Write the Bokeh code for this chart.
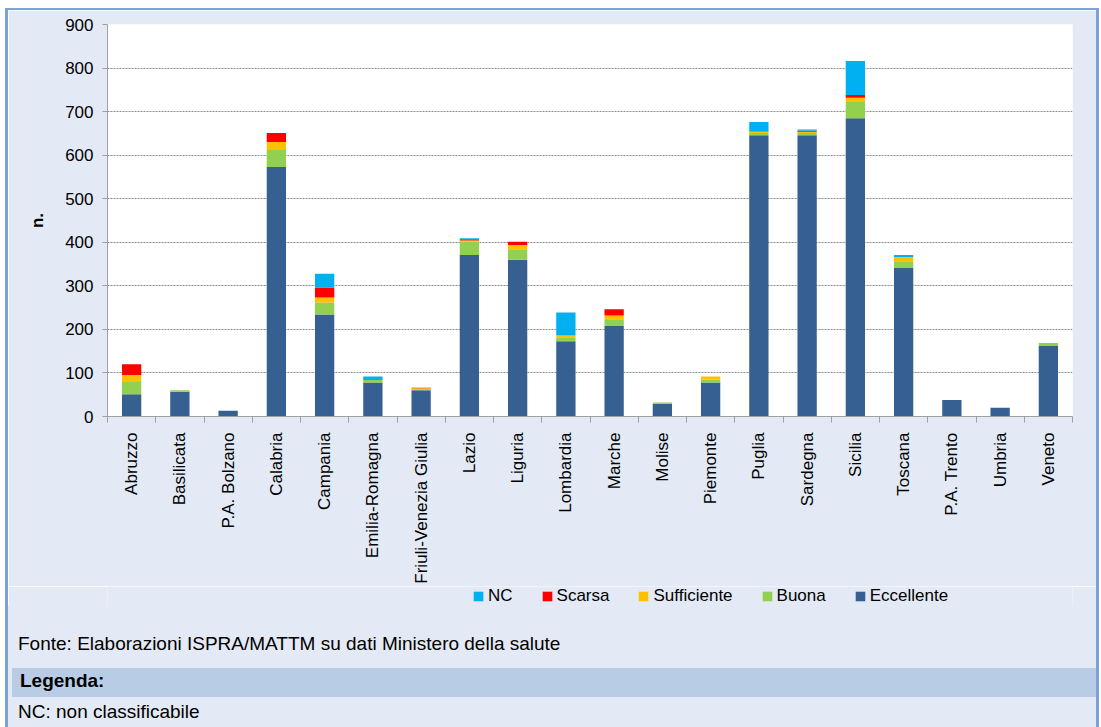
import math
from bokeh.plotting import figure
from bokeh.layouts import column, row
from bokeh.models import (ColumnDataSource, Range1d, FixedTicker, Legend, LegendItem,
                          Spacer, Div)
from bokeh.embed import file_html
from bokeh.resources import INLINE

# ---------------- data ----------------
regions = ["Abruzzo", "Basilicata", "P.A. Bolzano", "Calabria", "Campania",
           "Emilia-Romagna", "Friuli-Venezia Giulia", "Lazio", "Liguria", "Lombardia",
           "Marche", "Molise", "Piemonte", "Puglia", "Sardegna", "Sicilia",
           "Toscana", "P.A. Trento", "Umbria", "Veneto"]
eccellente = [51, 57, 13, 573, 234, 78, 60, 371, 360, 173, 208, 29, 78, 646, 646, 685, 341, 38, 20, 163]
buona = [28, 3, 0, 39, 28, 6, 1, 31, 24, 9, 15, 3, 7, 5, 5, 37, 14, 0, 0, 6]
sufficiente = [16, 0, 0, 18, 11, 0, 4, 2, 10, 4, 9, 0, 7, 3, 3, 10, 11, 0, 0, 0]
scarsa = [25, 0, 0, 21, 23, 0, 1, 3, 7, 0, 14, 0, 0, 0, 2, 6, 0, 0, 0, 0]
nc = [0, 0, 0, 0, 32, 8, 0, 2, 0, 53, 0, 0, 0, 22, 3, 78, 5, 0, 0, 0]
y_ticks = [0, 100, 200, 300, 400, 500, 600, 700, 800, 900]

series = ["Eccellente", "Buona", "Sufficiente", "Scarsa", "NC"]
colors = ["#376092", "#92D050", "#FFC000", "#FF0000", "#00B0F0"]
legend_order = ["NC", "Scarsa", "Sufficiente", "Buona", "Eccellente"]

fonte_text = "Fonte: Elaborazioni ISPRA/MATTM su dati Ministero della salute"
legenda_title = "Legenda:"
legenda_text = "NC: non classificabile"

# ---------------- style ----------------
FONT = "Liberation Sans"
BG = "#E3EAF5"
BAND = "#B8CCE6"
BORDER = "#7DA2D6"

# ---------------- chart ----------------
x_pos = [i + 0.5 for i in range(len(regions))]
source = ColumnDataSource(dict(x=x_pos, Eccellente=eccellente, Buona=buona,
                               Sufficiente=sufficiente, Scarsa=scarsa, NC=nc))

p = figure(width=1088, height=576, output_backend="svg", toolbar_location=None,
           x_range=Range1d(0, len(regions)), y_range=Range1d(0, 900),
           min_border_left=99, min_border_right=24, min_border_top=14,
           min_border_bottom=170)
p.background_fill_color = "white"
p.border_fill_color = BG
p.outline_line_color = None

rs = p.vbar_stack(series, x="x", width=0.4, color=colors, source=source, line_color=None)

overrides = {}
for xv, r in zip(x_pos, regions):
    overrides[xv] = r
    overrides[str(xv)] = r
p.xaxis.ticker = FixedTicker(ticks=x_pos, minor_ticks=list(range(len(regions) + 1)))
p.xaxis.major_label_overrides = overrides
p.xaxis.major_label_orientation = math.pi / 2
p.xaxis.major_tick_out = 0
p.xaxis.major_tick_in = 0
p.xaxis.minor_tick_out = 6
p.xaxis.minor_tick_in = 0
p.xaxis.minor_tick_line_color = "#A0A0A0"
p.xaxis.axis_line_color = "#A0A0A0"
p.xaxis.major_label_standoff = 10
p.xaxis.major_label_text_font = FONT
p.xaxis.major_label_text_font_size = "17px"
p.xaxis.major_label_text_color = "black"

p.yaxis.ticker = FixedTicker(ticks=y_ticks)
p.yaxis.major_tick_out = 5
p.yaxis.major_tick_in = 0
p.yaxis.major_tick_line_color = "#A0A0A0"
p.yaxis.axis_line_color = "#A0A0A0"
p.yaxis.major_label_standoff = 9
p.yaxis.major_label_text_font = FONT
p.yaxis.major_label_text_font_size = "17px"
p.yaxis.major_label_text_color = "black"
p.yaxis.axis_label = "n."
p.yaxis.axis_label_text_font = FONT
p.yaxis.axis_label_text_font_size = "17px"
p.yaxis.axis_label_text_font_style = "bold"
p.yaxis.axis_label_text_color = "black"
p.yaxis.axis_label_standoff = 15

p.xgrid.visible = False
p.ygrid.ticker = FixedTicker(ticks=y_ticks)
p.ygrid.grid_line_color = "#8C8C8C"
p.ygrid.grid_line_dash = "2 1"

# ---------------- legend strip ----------------
lg = figure(width=1088, height=20, output_backend="svg", toolbar_location=None,
            x_range=Range1d(0, 1), y_range=Range1d(0, 1),
            x_axis_type=None, y_axis_type=None,
            min_border_left=99, min_border_right=24, min_border_top=0, min_border_bottom=0)
lg.background_fill_color = BG
lg.border_fill_color = BG
lg.outline_line_color = None
lg.grid.visible = False
# swatch renderers for the legend (their single bar lies outside the visible range)
swatches = {s: lg.vbar(x=[-1], top=[0], width=0.4, color=c, line_color=None)
            for s, c in zip(series, colors)}
legend = Legend(items=[LegendItem(label=s, renderers=[swatches[s]]) for s in legend_order],
                orientation="horizontal", location=(365, 0),
                background_fill_alpha=0, border_line_color=None, padding=0, margin=0,
                spacing=28, label_standoff=4, glyph_width=12, glyph_height=12,
                label_height=12, label_text_font=FONT, label_text_font_size="17px",
                label_text_color="black")
lg.add_layout(legend, "center")

# ---------------- footer ----------------
footer_html = (
    '<div style="position:relative;width:1088px;height:121px;background:%s;'
    'font-family:\'Liberation Sans\',Arial,sans-serif;font-size:19px;color:black;'
    'line-height:22px;overflow:hidden;">'
    '<div style="position:absolute;left:10px;top:27px;white-space:nowrap;">%s</div>'
    '<div style="position:absolute;left:4px;top:62px;width:1084px;height:29px;background:%s;"></div>'
    '<div style="position:absolute;left:12px;top:64px;font-weight:bold;white-space:nowrap;">%s</div>'
    '<div style="position:absolute;left:10px;top:95px;white-space:nowrap;">%s</div>'
    '</div>' % (BG, fonte_text, BAND, legenda_title, legenda_text)
)
footer = Div(text=footer_html, width=1088, height=121, margin=0,
             styles={"background-color": BG, "overflow": "hidden"})

inner = column(p, lg, footer, spacing=0)
layout = column(
    Spacer(height=8, width=1094),
    row(Spacer(width=5, height=2), Spacer(width=1094, height=2, styles={"background-color": BORDER})),
    row(Spacer(width=5, height=717),
        Spacer(width=3, height=717, styles={"background-color": BORDER}),
        inner,
        Spacer(width=3, height=717, styles={"background-color": BORDER}),
        spacing=0),
    spacing=0)

open("out.html", "w").write(file_html(layout, INLINE))
